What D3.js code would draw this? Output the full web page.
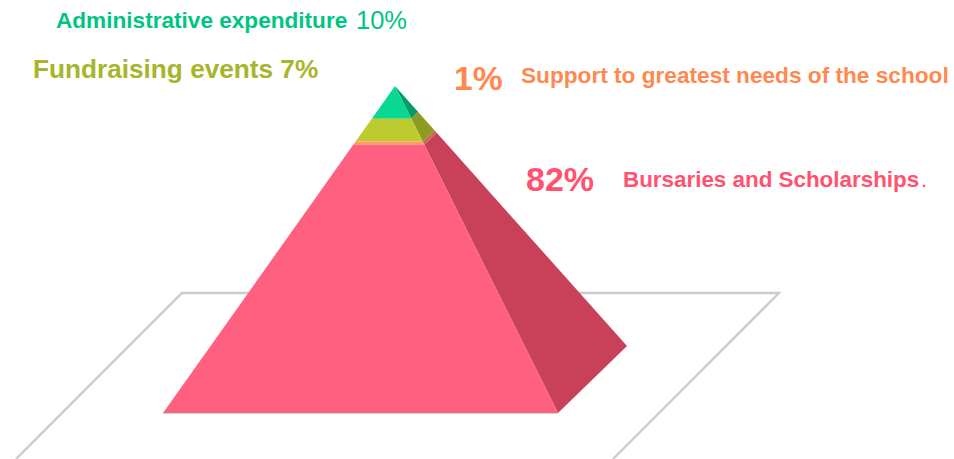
<!DOCTYPE html>
<html>
<head>
<meta charset="utf-8">
<script src="https://cdn.jsdelivr.net/npm/d3@7"></script>
<style>
  html, body { margin: 0; padding: 0; background: #fff; overflow: hidden; }
  svg { display: block; }
  text { font-family: "Liberation Sans", Arial, sans-serif; font-weight: bold; }
</style>
</head>
<body>
<div id="chart"></div>
<script>
// Pyramid layers, top to bottom
const categories = ['Administrative expenditure', 'Fundraising events', 'Support to greatest needs of the school', 'Bursaries and Scholarships'];
const shares = [10, 7, 1, 82];
const frontColors = ['#0ad792', '#bccb2d', '#ff9966', '#ff6080'];
const sideColors = ['#079a69', '#8f9a22', '#c26e50', '#c94059'];
const labelColors = ['#00c482', '#a8b42a', '#ff8850', '#ff5270'];

const width = 954, height = 459;

// Pyramid corners and the floor outline
const apex = [395, 86];
const frontLeft = [163, 413];
const frontRight = [558, 413];
const backRight = [627, 346];
const floorLine = [[16, 459], [182, 293], [779, 293], [613, 459]];

const svg = d3.select('#chart').append('svg')
    .attr('width', width)
    .attr('height', height);

// One scale pair per pyramid edge, from cumulative share to pixel position
const edge = corner => ({
    x: d3.scaleLinear().domain([0, 100]).range([apex[0], corner[0]]),
    y: d3.scaleLinear().domain([0, 100]).range([apex[1], corner[1]])
});
const leftEdge = edge(frontLeft);
const rightEdge = edge(frontRight);
const backEdge = edge(backRight);
const at = (e, v) => [e.x(v), e.y(v)];

const cumulative = d3.cumsum(shares);
const layers = shares.map((d, i) => ({
    name: categories[i],
    from: cumulative[i] - d,
    to: cumulative[i],
    front: frontColors[i],
    side: sideColors[i]
}));

const line = d3.line();

svg.append('path')
    .attr('d', line(floorLine))
    .attr('fill', 'none')
    .attr('stroke', '#cccccc')
    .attr('stroke-width', 2.4);

// Grey edge under the front of the pyramid
svg.append('path')
    .attr('d', line([frontLeft, frontRight]))
    .attr('fill', 'none')
    .attr('stroke', '#c8c8c8')
    .attr('stroke-width', 1.6);

const groups = svg.selectAll('.layer')
    .data(layers)
    .enter()
    .append('g')
    .attr('class', 'layer');

groups.append('path')
    .attr('d', d => line([at(rightEdge, d.from), at(backEdge, d.from), at(backEdge, d.to), at(rightEdge, d.to)]) + 'Z')
    .attr('fill', d => d.side);

groups.append('path')
    .attr('d', d => line([at(leftEdge, d.from), at(rightEdge, d.from), at(rightEdge, d.to), at(leftEdge, d.to)]) + 'Z')
    .attr('fill', d => d.front);

// Labels, split into runs because the sizes differ inside a line
const addText = (x, y, size, color, str, weight) => {
    return svg.append('text')
        .attr('x', x)
        .attr('y', y)
        .attr('font-size', size)
        .attr('fill', color)
        .style('font-weight', weight || 'bold')
        .text(str);
};

addText(56, 28, 22.6, labelColors[0], categories[0]);
addText(356, 29, 25.5, labelColors[0], shares[0] + '%', 'normal');
addText(33, 78, 26.2, labelColors[1], categories[1] + ' ' + shares[1] + '%');
addText(454, 90, 33.6, labelColors[2], shares[2] + '%');
addText(521, 83, 22.65, labelColors[2], categories[2]);
addText(526, 191, 34, labelColors[3], shares[3] + '%');
addText(623, 187, 22.4, labelColors[3], categories[3]);
addText(921, 187, 22.4, labelColors[3], '.', 'normal');
</script>
</body>
</html>
